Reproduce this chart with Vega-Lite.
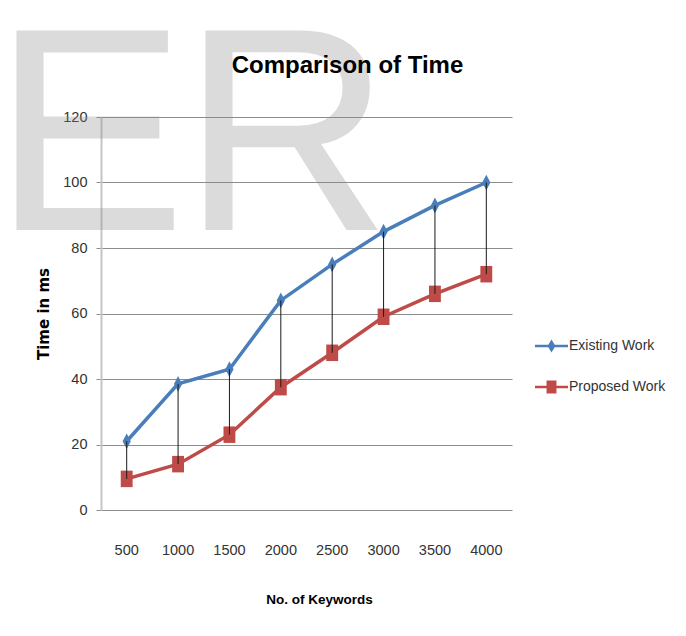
{
  "$schema": "https://vega.github.io/schema/vega-lite/v6.json",
  "width": 411,
  "height": 393,
  "autosize": {"type": "none"},
  "padding": {"left": 101, "top": 117, "right": 174, "bottom": 126},
  "background": "white",
  "config": {"view": {"stroke": null}},
  "title": {
    "text": "Comparison of Time",
    "font": "Liberation Sans",
    "fontSize": 24,
    "fontWeight": "bold",
    "color": "#000000",
    "anchor": "middle",
    "frame": "group",
    "dx": 41,
    "offset": -80
  },
  "datasets": {
    "wide": [
      {"k": 500, "existing": 21, "proposed": 9.5},
      {"k": 1000, "existing": 38.5, "proposed": 14},
      {"k": 1500, "existing": 43, "proposed": 23},
      {"k": 2000, "existing": 64, "proposed": 37.5},
      {"k": 2500, "existing": 75, "proposed": 48},
      {"k": 3000, "existing": 85, "proposed": 59},
      {"k": 3500, "existing": 93, "proposed": 66},
      {"k": 4000, "existing": 100, "proposed": 72}
    ],
    "wm": [{"wm": "E"}, {"wm": "R"}]
  },
  "data": {"name": "wide"},
  "layer": [
    {
      "data": {"name": "wm"},
      "transform": [{"filter": "datum.wm == 'E'"}],
      "mark": {"type": "text", "font": "Liberation Sans", "fontSize": 290, "color": "#8a8a8a", "opacity": 0.3, "align": "left", "baseline": "alphabetic", "dx": -134, "dy": 113},
      "encoding": {
        "text": {"field": "wm"},
        "x": {"datum": 500, "type": "ordinal", "title": "No. of Keywords"},
        "y": {"datum": 120, "type": "quantitative", "title": "Time in ms"}
      }
    },
    {
      "data": {"name": "wm"},
      "transform": [{"filter": "datum.wm == 'R'"}],
      "mark": {"type": "text", "font": "Liberation Sans", "fontSize": 290, "color": "#8a8a8a", "opacity": 0.3, "align": "left", "baseline": "alphabetic", "dx": 55, "dy": 113},
      "encoding": {
        "text": {"field": "wm"},
        "x": {"datum": 500, "type": "ordinal", "title": "No. of Keywords"},
        "y": {"datum": 120, "type": "quantitative", "title": "Time in ms"}
      }
    },
    {
      "mark": {"type": "line", "strokeWidth": 3.5, "color": "#4A7EBB"},
      "encoding": {
        "x": {
          "field": "k", "type": "ordinal", "title": "No. of Keywords",
          "axis": {
            "labelAngle": 0, "labelAlign": "center", "labelBaseline": "top", "domain": false, "ticks": false, "tickSize": 0, "grid": false,
            "labelFont": "Liberation Sans", "labelFontSize": 14.5, "labelColor": "#333333", "labelPadding": 33,
            "titleFont": "Liberation Sans", "titleFontSize": 13.5, "titleFontWeight": "bold", "titleColor": "#000000",
            "titleX": 218, "titleY": 82, "titleAlign": "center", "titleBaseline": "top"
          }
        },
        "y": {
          "field": "existing", "type": "quantitative", "title": "Time in ms",
          "scale": {"domain": [0, 120]},
          "axis": {
            "values": [0, 20, 40, 60, 80, 100, 120],
            "grid": true, "gridColor": "#8c8c8c", "gridWidth": 1,
            "domain": true, "domainColor": "#c6c6c6", "domainWidth": 2,
            "ticks": true, "tickColor": "#8c8c8c", "tickSize": 5,
            "labelFont": "Liberation Sans", "labelFontSize": 14.5, "labelColor": "#333333", "labelPadding": 9,
            "titleFont": "DejaVu Sans", "titleFontSize": 15, "titleFontWeight": "bold", "titleColor": "#000000",
            "titleX": -58, "titleY": 196.5, "titleAngle": -90, "titleAlign": "center", "titleBaseline": "middle"
          }
        }
      }
    },
    {
      "mark": {"type": "line", "strokeWidth": 3.5, "color": "#BE4B48"},
      "encoding": {
        "x": {"field": "k", "type": "ordinal", "title": "No. of Keywords"},
        "y": {"field": "proposed", "type": "quantitative", "title": "Time in ms"}
      }
    },
    {
      "mark": {"type": "point", "filled": true, "opacity": 1, "size": 272, "color": "#4A7EBB", "shape": "M0,-0.95L0.5,0L0,0.95L-0.5,0Z"},
      "encoding": {
        "x": {"field": "k", "type": "ordinal", "title": "No. of Keywords"},
        "y": {"field": "existing", "type": "quantitative", "title": "Time in ms"}
      }
    },
    {
      "mark": {"type": "point", "filled": true, "opacity": 1, "size": 272, "color": "#BE4B48", "shape": "M-0.72,-1H0.72V1H-0.72Z"},
      "encoding": {
        "x": {"field": "k", "type": "ordinal", "title": "No. of Keywords"},
        "y": {"field": "proposed", "type": "quantitative", "title": "Time in ms"}
      }
    },
    {
      "transform": [{"fold": ["existing", "proposed"], "as": ["series", "value"]}],
      "mark": {"type": "point", "filled": true, "opacity": 0, "size": 4},
      "encoding": {
        "x": {"field": "k", "type": "ordinal", "title": "No. of Keywords"},
        "y": {"field": "value", "type": "quantitative", "title": "Time in ms"},
        "color": {
          "field": "series", "type": "nominal",
          "scale": {"domain": ["existing", "proposed"], "range": ["#4A7EBB", "#BE4B48"]},
          "legend": {
            "title": null, "orient": "none", "legendX": 433, "legendY": 211.5, "padding": 0,
            "labelExpr": "datum.value == 'existing' ? 'Existing Work' : 'Proposed Work'",
            "labelFont": "Liberation Sans", "labelFontSize": 14, "labelColor": "#333333",
            "labelOffset": 0, "symbolSize": 1089, "rowPadding": 16, "symbolOpacity": 1
          }
        },
        "shape": {
          "field": "series", "type": "nominal", "legend": null,
          "scale": {"domain": ["existing", "proposed"], "range": ["M-1,-0.08H1V0.08H-1Z M0,-0.4L0.24,0L0,0.4L-0.24,0Z", "M-1,-0.08H1V0.08H-1Z M-0.3,-0.4H0.3V0.4H-0.3Z"]}
        }
      }
    },
    {
      "mark": {"type": "rule", "color": "#1a1a1a", "strokeWidth": 1},
      "encoding": {
        "x": {"field": "k", "type": "ordinal", "title": "No. of Keywords"},
        "y": {"field": "existing", "type": "quantitative", "title": "Time in ms"},
        "y2": {"field": "proposed"}
      }
    }
  ]
}
